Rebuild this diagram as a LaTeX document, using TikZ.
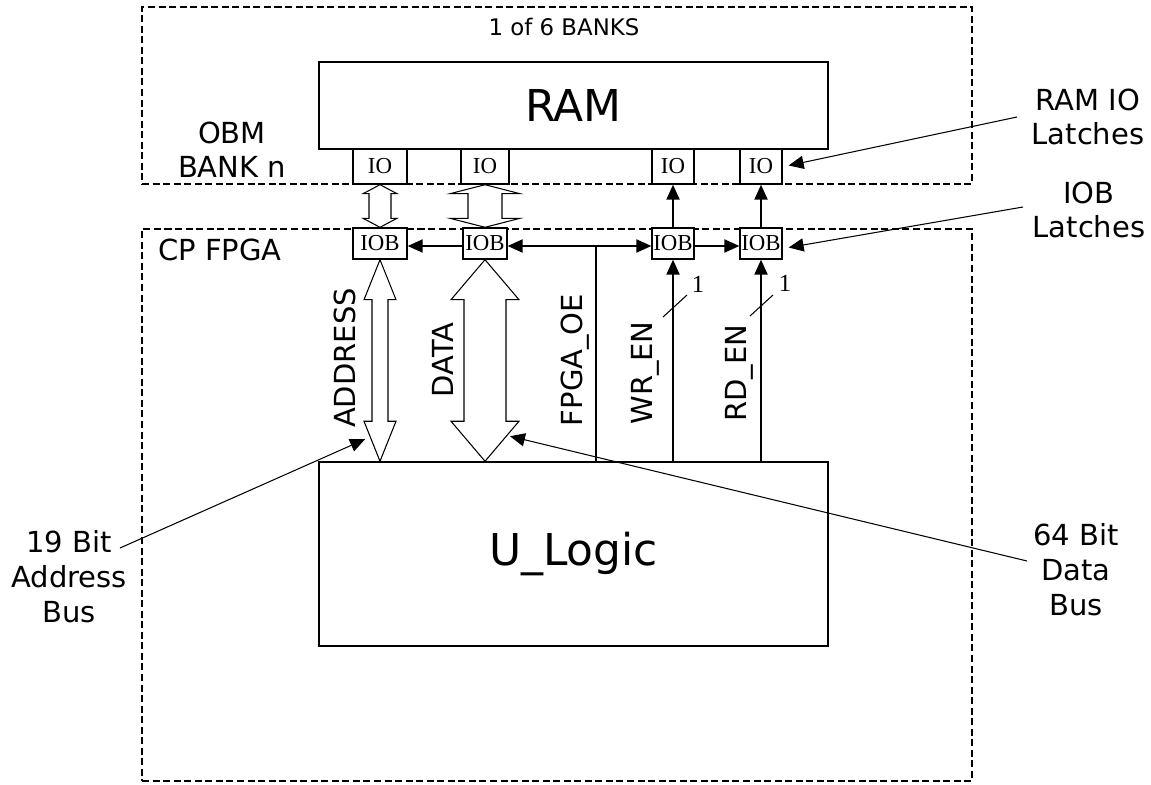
\documentclass[tikz,border=0pt]{standalone}
\usepackage{fontspec}
\setmainfont{DejaVu Sans}
\newfontfamily\ioserif{Liberation Serif}
\usetikzlibrary{arrows.meta,calc}
\newcommand\dblbus[5]{%
  \draw[busline] (#1) -- ($(#1)+(#4,#5)$) -- ($(#1)+(#3,#5)$) -- ($(#2)+(#3,-#5)$) -- ($(#2)+(#4,-#5)$) -- (#2)
    -- ($(#2)+(-#4,-#5)$) -- ($(#2)+(-#3,-#5)$) -- ($(#1)+(-#3,#5)$) -- ($(#1)+(-#4,#5)$) -- cycle;}
\begin{document}
\begin{tikzpicture}[x=0.02cm,y=-0.02cm,
  dbox/.style={draw,line width=1.1pt,dash pattern=on 4pt off 2pt,inner sep=0pt},
  blk/.style={draw,line width=0.9pt,inner sep=0pt},
  iobox/.style={draw,line width=0.8pt,inner sep=0pt,fill=white,font=\ioserif\fontsize{13}{15}\selectfont},
  busline/.style={draw,line width=0.6pt,fill=white,line join=miter},
  sig/.style={draw,line width=0.8pt},
  sigarr/.style={draw,line width=0.8pt,-{Triangle[length=8.5pt,width=7.5pt]}},
  ptr/.style={draw,line width=0.6pt,-{Triangle[length=8.5pt,width=7.5pt]}},
  lbl/.style={font=\fontsize{16.5}{19.5}\selectfont,align=center,inner sep=0pt},
  vlbl/.style={font=\fontsize{16.5}{19.5}\selectfont,rotate=90,inner sep=0pt},
  big/.style={font=\fontsize{25}{30}\selectfont},
  one/.style={font=\ioserif\fontsize{14}{16}\selectfont,inner sep=0pt}
]
\useasboundingbox (0,0) rectangle (1151,784);
% enclosures
\node[dbox,minimum width=16.6cm,minimum height=3.54cm] (bank) at (557,95.5) {};
\node[dbox,minimum width=16.6cm,minimum height=11.04cm] (fpga) at (557,505) {};
\node[font=\fontsize{13}{15}\selectfont,inner sep=0pt] (nbanks) at (564,27) {1 of 6 BANKS};
\node[lbl] (obm) at (232,150) {OBM\\BANK n};
\node[lbl] (cpf) at (220,250) {CP FPGA};
% blocks
\node[blk,big,minimum width=10.18cm,minimum height=1.74cm] (RAM) at (573.5,105.5) {RAM};
\node[blk,big,minimum width=10.18cm,minimum height=3.68cm] (UL) at (573.5,554) {U\_Logic};
\node[iobox,minimum width=1.08cm,minimum height=0.7cm] (IO1) at (380,166.5) {IO};
\node[iobox,minimum width=0.96cm,minimum height=0.7cm] (IO2) at (485,166.5) {IO};
\node[iobox,minimum width=0.84cm,minimum height=0.7cm] (IO3) at (673,166.5) {IO};
\node[iobox,minimum width=0.84cm,minimum height=0.7cm] (IO4) at (761,166.5) {IO};
\node[iobox,minimum width=1.08cm,minimum height=0.62cm] (IOB1) at (380,243.5) {IOB};
\node[iobox,minimum width=0.88cm,minimum height=0.62cm] (IOB2) at (485,243.5) {IOB};
\node[iobox,minimum width=0.84cm,minimum height=0.62cm] (IOB3) at (673,243.5) {IOB};
\node[iobox,minimum width=0.84cm,minimum height=0.62cm] (IOB4) at (761,243.5) {IOB};
% buses
\coordinate (abot) at (IOB1.south |- UL.north);
\coordinate (dbot) at (IOB2.south |- UL.north);
\dblbus{IO1.south}{IOB1.north}{11}{17}{9}
\dblbus{IO2.south}{IOB2.north}{17}{35}{9}
\dblbus{IOB1.south}{abot}{8}{16}{40}
\dblbus{IOB2.south}{dbot}{21}{34}{40}
% control signals
\coordinate (oeT) at (596,246);
\coordinate (oeB) at (oeT |- UL.north);
\draw[sig] (oeB) -- (oeT);
\draw[sigarr] (oeT) -- (oeT -| IOB2.east);
\draw[sigarr] (oeT) -- (oeT -| IOB3.west);
\draw[sigarr] (oeT -| IOB2.west) -- (oeT -| IOB1.east);
\draw[sigarr] (oeT -| IOB3.east) -- (oeT -| IOB4.west);
\coordinate (wrB) at (IOB3.south |- UL.north);
\coordinate (rdB) at (IOB4.south |- UL.north);
\draw[sigarr] (wrB) -- (IOB3.south);
\draw[sigarr] (rdB) -- (IOB4.south);
\draw[sigarr] (IOB3.north) -- (IO3.south);
\draw[sigarr] (IOB4.north) -- (IO4.south);
\draw[line width=0.6pt] (663,317) -- (687,295);
\draw[line width=0.6pt] (750,316) -- (773,295);
\node[one] (w1) at (698,284) {1};
\node[one] (r1) at (785,283) {1};
% vertical labels
\node[vlbl] (ladr) at (345,358) {ADDRESS};
\node[vlbl] (ldat) at (443,360) {DATA};
\node[vlbl] (loe) at (575,360) {FPGA\_OE};
\node[vlbl] (lwr) at (645,373) {WR\_EN};
\node[vlbl] (lrd) at (739,373) {RD\_EN};
% side labels and pointers
\node[lbl] (ramio) at (1088,117) {RAM IO\\Latches};
\node[lbl] (ioblat) at (1089,210) {IOB\\Latches};
\node[lbl,font=\fontsize{16.5}{20}\selectfont] (abus) at (69,577) {19 Bit\\Address\\Bus};
\node[lbl,font=\fontsize{16.5}{20}\selectfont] (dbus) at (1076,570) {64 Bit\\Data\\Bus};
\coordinate (p1) at (1017,117);
\coordinate (p2) at (1023,207);
\coordinate (p3) at (120,548);
\coordinate (p4) at (1027,561);
\draw[ptr] (p1) -- ($(IO4.east)+(6,-1)$);
\draw[ptr] (p2) -- ($(IOB4.east)+(6,4)$);
\draw[ptr] (p3) -- ($(abot)+(-15,-22)$);
\draw[ptr] (p4) -- ($(dbot)+(25,-25)$);
\end{tikzpicture}
\end{document}
